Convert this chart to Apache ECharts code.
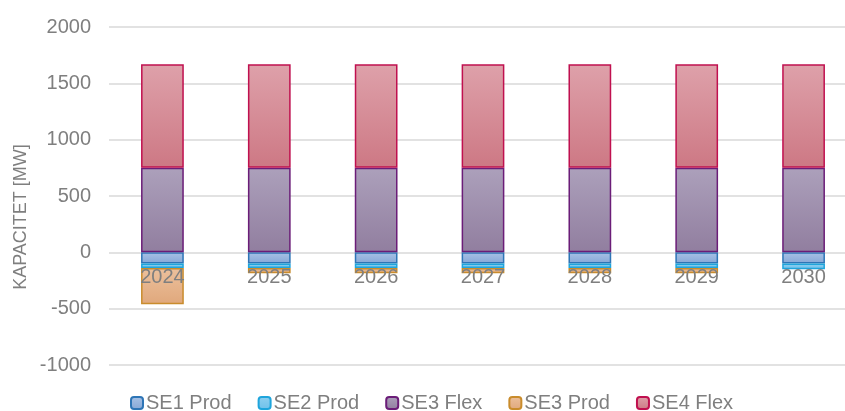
<!DOCTYPE html>
<html>
<head>
<meta charset="utf-8">
<script src="https://cdn.jsdelivr.net/npm/echarts@6/dist/echarts.min.js"></script>
<style>
  html, body { margin: 0; padding: 0; background: #fff; }
  #chart { width: 845px; height: 411px; }
</style>
</head>
<body>
<div id="chart"></div>
<script>
const years = ['2024', '2025', '2026', '2027', '2028', '2029', '2030']
const se1Prod = [-100, -100, -100, -100, -100, -100, -100]
const se2Prod = [-40, -40, -40, -40, -40, -40, -50]
const se3Flex = [750, 750, 750, 750, 750, 750, 750]
const se3Prod = [-320, -45, -45, -45, -45, -45, null]
const se4Flex = [920, 920, 920, 920, 920, 920, 920]
const yTicks = { min: -1000, max: 2000, interval: 500 }

const font = 'Liberation Sans, Arial, sans-serif'
const grey = '#7f7f7f'
const gridTop = 27
const gridHeight = 338
// place the category axis on the zero line
const zeroOffset = -gridHeight * (0 - yTicks.min) / (yTicks.max - yTicks.min)

function grad(top, bottom) {
  return new echarts.graphic.LinearGradient(0, 0, 0, 1, [
    { offset: 0, color: top },
    { offset: 1, color: bottom }
  ])
}

function barSeries(name, data, fillTop, fillBottom, border) {
  return {
    name: name,
    type: 'bar',
    stack: 'total',
    barWidth: '40%',
    data: data,
    itemStyle: {
      color: grad(fillTop, fillBottom),
      borderColor: border,
      borderWidth: 1.5
    }
  }
}

const chart = echarts.init(document.getElementById('chart'))
chart.setOption({
  animation: false,
  textStyle: { fontFamily: font },
  grid: { left: 109, top: gridTop, width: 748, height: gridHeight, outerBoundsMode: 'none' },
  legend: {
    left: 130,
    top: 393,
    padding: 0,
    itemWidth: 12,
    itemHeight: 12,
    itemGap: 26,
    textStyle: { color: grey, fontSize: 20, fontFamily: font, padding: [0, 0, 0, -2] }
  },
  graphic: [{
    type: 'text',
    x: 21,
    y: 217,
    rotation: Math.PI / 2,
    style: {
      text: 'KAPACITET [MW]',
      fill: grey,
      font: '18px ' + font,
      textAlign: 'center',
      textVerticalAlign: 'middle'
    }
  }],
  xAxis: {
    type: 'category',
    data: years,
    z: 10,
    offset: zeroOffset,
    axisLine: { show: false },
    axisTick: { show: false },
    axisLabel: { color: grey, fontSize: 20, margin: 15 }
  },
  yAxis: {
    type: 'value',
    min: yTicks.min,
    max: yTicks.max,
    interval: yTicks.interval,
    axisLine: { show: false },
    axisTick: { show: false },
    axisLabel: { color: grey, fontSize: 20, margin: 18, formatter: v => String(v) },
    splitLine: { lineStyle: { color: '#d9d9d9', width: 1.5 } }
  },
  series: [
    barSeries('SE1 Prod', se1Prod, '#a8c2e6', '#86a7d6', '#2e75b6'),
    barSeries('SE2 Prod', se2Prod, '#8fd0f0', '#6ec0ea', '#1fa5dc'),
    barSeries('SE3 Flex', se3Flex, '#aca0bb', '#917e9f', '#6b1d78'),
    barSeries('SE3 Prod', se3Prod, '#ecc09c', '#e0a87c', '#c98c2c'),
    barSeries('SE4 Flex', se4Flex, '#dea1aa', '#cd7884', '#c0104f')
  ]
})
</script>
</body>
</html>
